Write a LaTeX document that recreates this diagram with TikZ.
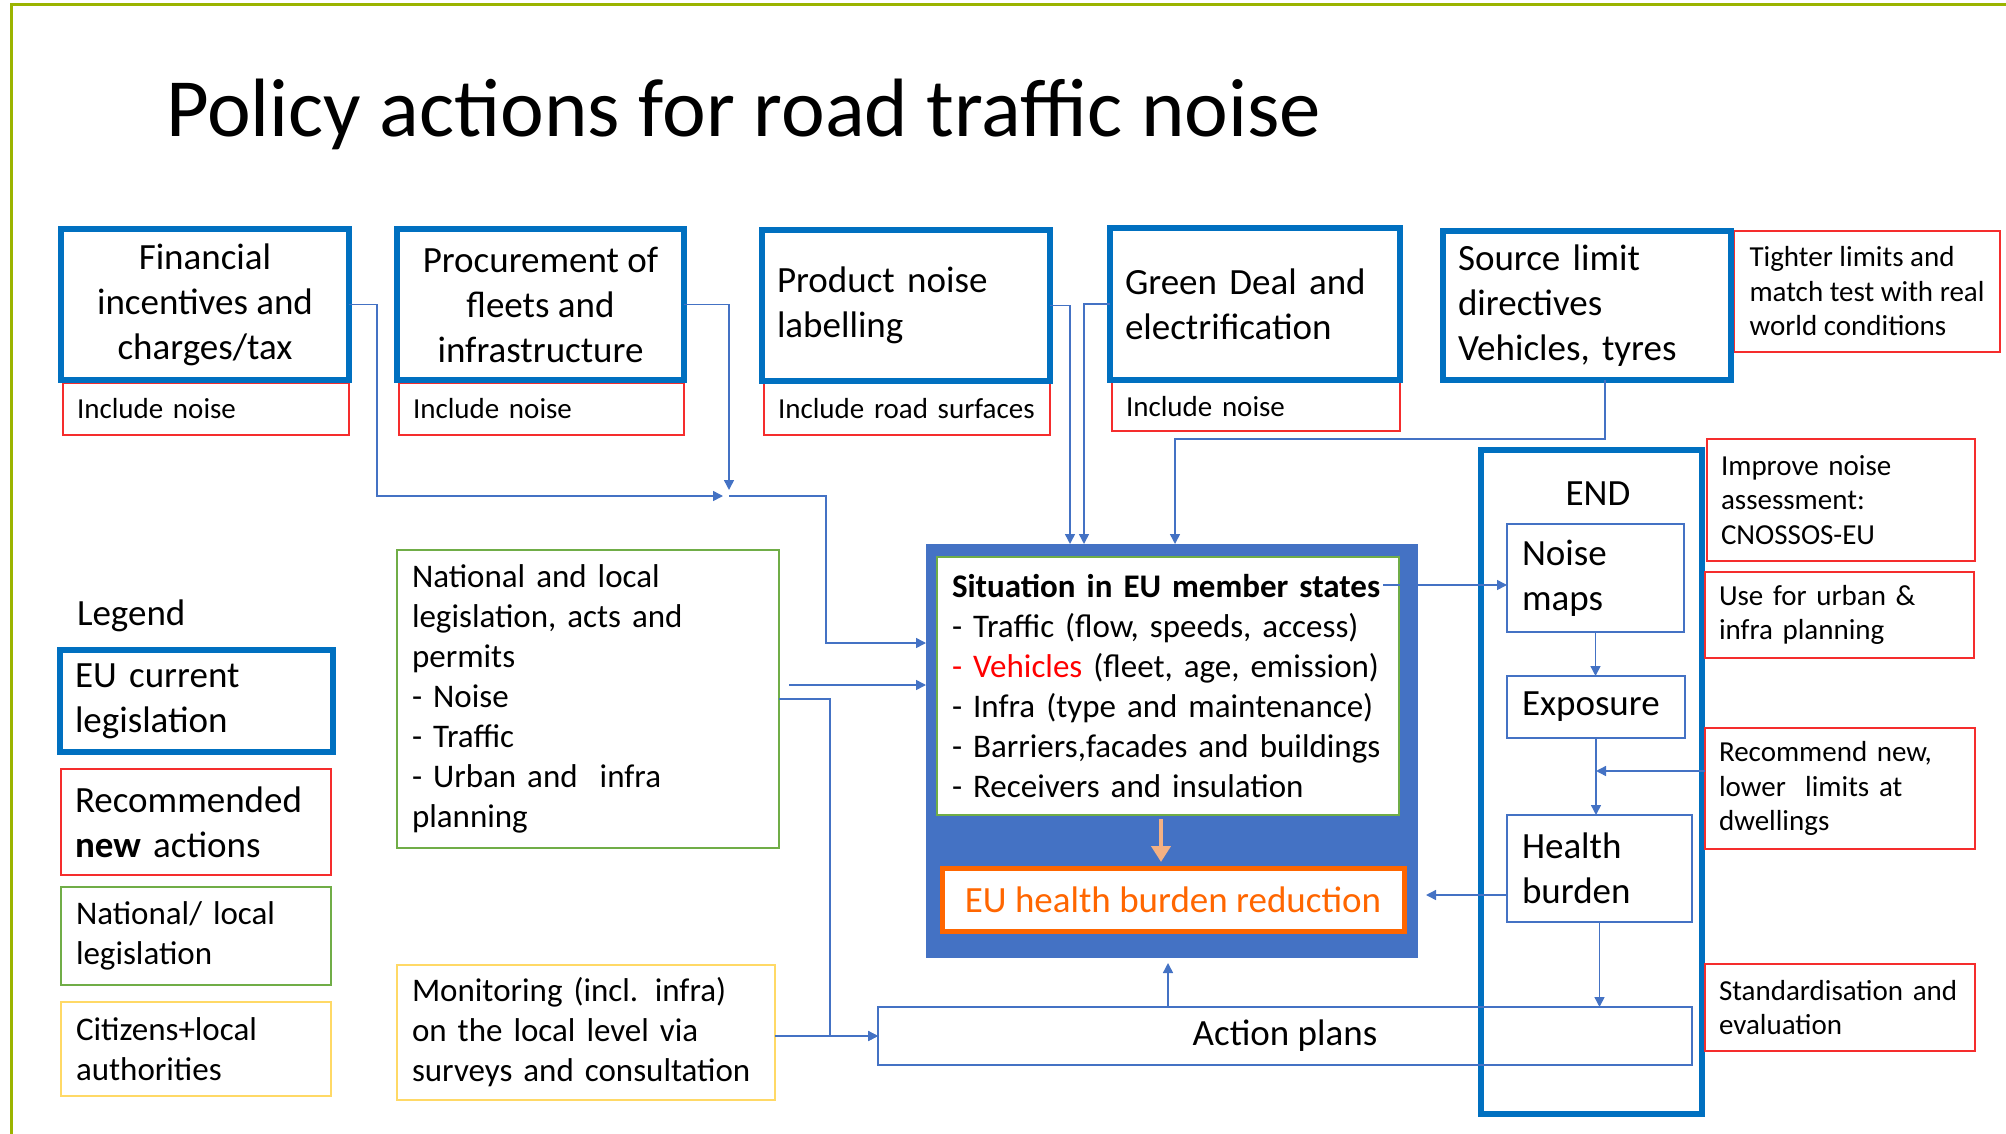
\documentclass[tikz,border=0pt]{standalone}
\usepackage{fontspec}
\setmainfont{Carlito}
\usetikzlibrary{arrows.meta,calc}
\definecolor{eublue}{HTML}{0070C0}
\definecolor{linkblue}{HTML}{4472C4}
\definecolor{recred}{RGB}{245,45,45}
\definecolor{natgreen}{HTML}{70AD47}
\definecolor{citygold}{HTML}{FFD966}
\definecolor{frameolive}{RGB}{155,180,0}
\definecolor{burdenorange}{RGB}{255,102,0}
\definecolor{peach}{HTML}{F4B183}
\definecolor{vehred}{HTML}{FF0000}
\begin{document}
\begin{tikzpicture}[x=0.5pt,y=-0.5pt,
  every node/.style={inner sep=0pt, outer sep=0pt},
  sz/.style 2 args={minimum width=#1pt, minimum height=#2pt},
  tw/.style={align=left, text width=#1pt},
  base/.style={draw, anchor=north west, inner xsep=7.5pt, inner ysep=0pt},
  eubox/.style={base, draw=eublue, line width=3pt},
  newbox/.style={base, draw=recred, line width=0.8pt, inner xsep=7pt},
  natbox/.style={base, draw=natgreen, line width=1.4pt},
  citbox/.style={base, draw=citygold, line width=1.4pt},
  stagebox/.style={base, draw=linkblue, line width=1pt},
  conn/.style={draw=linkblue, line width=0.75pt, -{Triangle[length=5pt,width=5pt]}},
  fA/.style={font=\fontsize{18.5}{22.5}\selectfont},
  fB/.style={font=\fontsize{16.5}{20}\selectfont},
  fC/.style={font=\fontsize{14.5}{17.25}\selectfont}]
\useasboundingbox (0,0) rectangle (2006,1134);
% slide frame
\draw[frameolive, line width=1.5pt] (2006,5) -- (11,5) -- (11,1134);
% title
\node[anchor=base west, font=\fontsize{41.4}{49}\selectfont] (title) at (166,137) {Policy actions for road traffic noise};

% top row
\node[newbox, sz={143}{26}, fC, tw=129] (finr) at (63,383) {Include noise};
\node[eubox, sz={144}{75.5}, fA, align=center] (fin) at (61,229) {Financial\\incentives and\\charges/tax};
\node[newbox, sz={142.5}{26}, fC, tw=128.5] (procr) at (399,383) {Include noise};
\node[eubox, sz={143.5}{75.5}, fA, align=center] (proc) at (397,229) {Procurement of\\fleets and\\infrastructure};
\node[newbox, sz={143}{26}, fC, tw=129] (prodr) at (764,383) {Include road surfaces};
\node[eubox, sz={144}{75.5}, fA, tw=129] (prod) at (762,230) {Product noise\\labelling};
\node[newbox, sz={144}{24.5}, fC, tw=130] (greenr) at (1112,382) {Include noise};
\node[eubox, sz={145}{76}, fA, tw=130] (green) at (1110,228) {Green Deal and\\electrification};
\node[newbox, sz={133}{60.5}, fC, align=left] (srcr) at (1734,231) {Tighter limits and\\match test with real\\world conditions};
\node[eubox, sz={144}{74.5}, fA, tw=129] (src) at (1443,231) {Source limit\\directives\\Vehicles, tyres};

% legend
\node[anchor=west, fA] (legtitle) at (77,616) {Legend};
\node[eubox, sz={136.5}{51}, fA, tw=121.5] (leg1) at (60,650) {EU current\\legislation};
\node[newbox, sz={135}{53}, fA, tw=121] (leg2) at (61,769) {Recommended\\\textbf{new} actions};
\node[natbox, sz={135}{49}, fB, tw=120] (leg3) at (61,887) {National/ local\\legislation};
\node[citbox, sz={135}{47}, fB, tw=120] (leg4) at (61,1002) {Citizens+local\\authorities};

% national / local boxes
\node[natbox, sz={191}{149}, fB, tw=176] (nat) at (397,550) {National and local\\legislation, acts and\\permits\\- Noise\\- Traffic\\- Urban and~ infra\\planning};
\node[citbox, sz={189}{67.5}, fB, tw=174] (mon) at (397,965) {Monitoring (incl. infra)\\on the local level via\\surveys and consultation};

% centre
\node[fill=linkblue, anchor=north west, sz={246}{207}] (ctr) at (926,544) {};
\node[draw=natgreen, line width=1.3pt, fill=white, anchor=north west, sz={231}{129}, fB, inner xsep=7.5pt, tw=216] (sit) at (937,557) {\textbf{Situation in EU member states}\\- Traffic (flow, speeds, access)\\\textcolor{vehred}{- Vehicles} (fleet, age, emission)\\- Infra (type and maintenance)\\- Barriers,facades and buildings\\- Receivers and insulation};
\node[draw=burdenorange, line width=2.5pt, fill=white, anchor=north west, sz={231}{31.5}, fA, text=burdenorange] (ora) at (942,868) {EU health burden reduction};

% END
\node[eubox, sz={110.5}{332}] (endbox) at (1481,450) {};
\node[fA] (endlbl) at (1598,494) {END};
\node[stagebox, sz={88.5}{54}, fA, tw=73.5] (noise) at (1507,524) {Noise\\maps};
\node[stagebox, sz={89}{31}, fA, tw=74] (expo) at (1507,676) {Exposure};
\node[stagebox, sz={92.5}{53.5}, fA, tw=77.5] (hb) at (1507,815) {Health\\burden};
\node[stagebox, sz={407}{29}, fA] (act) at (878,1007) {Action plans};

% right recommendations
\node[newbox, sz={134}{61}, fC, tw=120] (imp) at (1707,439) {Improve noise\\assessment:\\CNOSSOS-EU};
\node[newbox, sz={134.5}{43}, fC, tw=120.5] (use) at (1705,572) {Use for urban \&\\infra planning};
\node[newbox, sz={135}{60.5}, fC, tw=121] (rec) at (1705,728) {Recommend new,\\lower~ limits at\\dwellings};
\node[newbox, sz={135}{43.5}, fC, tw=121] (std) at (1705,964) {Standardisation and\\evaluation};

% connectors
\coordinate (j1) at (729,496);
\draw[conn] (fin.east) -- ++(14pt,0) |- ([xshift=-3pt]j1);
\draw[conn] (proc.east) -| ([yshift=3pt]j1);
\draw[conn] (j1) -- ++(48.5pt,0) |- (ctr.west |- 0,643);
\draw[conn, shorten <=5pt] (nat.east |- 0,685) -- (ctr.west |- 0,685);
\draw[conn] (nat.east) -- ++(25.5pt,0) |- (act.west);
\draw[conn] (mon.east |- act.west) -- (act.west);
\draw[conn] (prod.east) -| (ctr.north -| 1070,0);
\draw[conn] (green.west) -| (ctr.north -| 1084,0);
\draw[conn] (src.south -| 1605,0) -- ++(0,-29.5pt) -| (ctr.north -| 1175,0);
\draw[conn] ($(sit.east |- 0,585)+(-8pt,0)$) -- (noise.west |- 0,585);
\draw[conn] (noise.south) -- (noise.south |- expo.north);
\draw[conn] (expo.south) -- (expo.south |- hb.north);
\draw[conn] (rec.west |- 0,771) -- (expo.south |- 0,771);
\draw[conn, shorten >=4pt] (hb.west |- 0,895) -- (ctr.east |- 0,895);
\draw[conn] (hb.south) -- (hb.south |- act.north);
\draw[conn, shorten >=2.5pt] (act.north -| 1168,0) -- (ctr.south -| 1168,0);
\draw[draw=peach, line width=2.3pt, -{Triangle[length=8pt,width=9.5pt]}, shorten <=2pt, shorten >=3pt] (sit.south -| 1161,0) -- (ora.north -| 1161,0);
\end{tikzpicture}
\end{document}
